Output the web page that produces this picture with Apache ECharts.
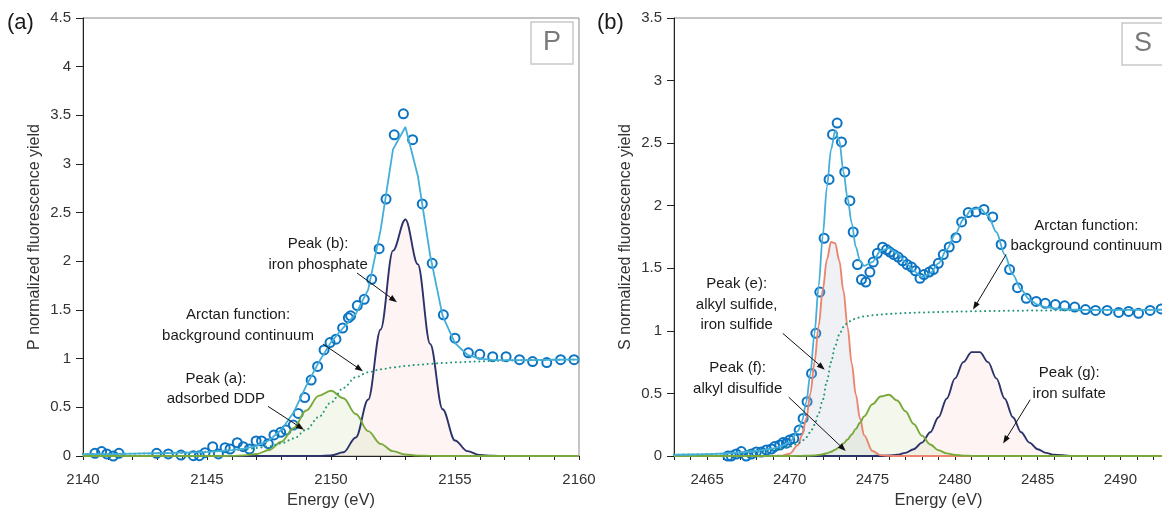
<!DOCTYPE html>
<html>
<head>
<meta charset="utf-8">
<script src="https://cdn.jsdelivr.net/npm/echarts@6/dist/echarts.min.js"></script>
<style>
  html, body { margin: 0; padding: 0; background: #fff; }
  #chart { width: 1162px; height: 508px; }
</style>
</head>
<body>
<div id="chart"></div>
<script>
// ---------- P K-edge panel (a) ----------
// energy grid of the fitted components (eV)
const pE = [2140,2140.5,2141,2141.5,2142,2142.5,2143,2143.5,2144,2144.5,2145,2145.5,2146,2146.5,2147,2147.5,2148,2148.5,2149,2149.5,2150,2150.5,2151,2151.5,2152,2152.5,2153,2153.5,2154,2154.5,2155,2155.5,2156,2156.5,2157,2157.5,2158,2158.5,2159,2159.5,2160];
const pPeakA = [0,0,0,0,0,0,0,0,0,0,0,0,0.001,0.006,0.021,0.061,0.147,0.289,0.467,0.618,0.67,0.594,0.431,0.256,0.125,0.05,0.016,0.004,0.001,0,0,0,0,0,0,0,0,0,0,0,0];
const pPeakB = [0,0,0,0,0,0,0,0,0,0,0,0,0,0,0,0,0,0,0,0,0.006,0.038,0.19,0.58,1.30,2.11,2.43,1.97,1.15,0.48,0.16,0.05,0.01,0.002,0,0,0,0,0,0,0];
const pArctan = [0.02,0.02,0.02,0.022,0.024,0.026,0.028,0.03,0.034,0.038,0.043,0.05,0.058,0.068,0.082,0.10,0.13,0.18,0.27,0.40,0.55,0.70,0.81,0.86,0.89,0.91,0.925,0.937,0.947,0.955,0.962,0.967,0.972,0.976,0.979,0.982,0.985,0.987,0.989,0.991,0.992];
const pFit = [0.02,0.02,0.02,0.022,0.024,0.026,0.028,0.03,0.034,0.038,0.043,0.05,0.06,0.075,0.105,0.16,0.27,0.45,0.72,0.96,1.17,1.32,1.46,1.71,2.32,3.15,3.38,2.88,2.06,1.44,1.16,1.04,1.0,0.988,0.985,0.985,0.985,0.987,0.989,0.99,0.99];
// measured points
const pDataE = [2140.48,2140.75,2140.96,2141.22,2141.45,2142.97,2143.44,2143.95,2144.45,2144.69,2144.92,2145.23,2145.46,2145.73,2145.93,2146.22,2146.46,2146.71,2146.98,2147.2,2147.47,2147.7,2147.97,2148.19,2148.48,2148.68,2148.94,2149.2,2149.46,2149.72,2149.96,2150.2,2150.47,2150.7,2150.79,2151.06,2151.34,2151.64,2151.94,2152.22,2152.55,2152.92,2153.29,2153.68,2154.08,2154.53,2155.0,2155.54,2156.0,2156.52,2157.06,2157.6,2158.13,2158.7,2159.26,2159.8];
const pDataY = [0.027,0.045,0.021,0.0,0.027,0.027,0.021,0.01,0.003,0.003,0.034,0.096,0.021,0.086,0.072,0.137,0.096,0.072,0.154,0.154,0.127,0.216,0.243,0.267,0.318,0.437,0.60,0.78,0.92,1.09,1.165,1.20,1.315,1.42,1.44,1.545,1.61,1.815,2.13,2.64,3.30,3.515,3.25,2.59,1.98,1.45,1.21,1.06,1.045,1.02,1.02,0.99,0.97,0.96,0.99,0.99];
const pXTicks = [2140, 2145, 2150, 2155, 2160];
const pXMinor = [2140,2141,2142,2143,2144,2145,2146,2147,2148,2149,2150,2151,2152,2153,2154,2155,2156,2157,2158,2159,2160];

// ---------- S K-edge panel (b) ----------
const sE = [2463,2464,2465,2466,2467,2468,2469,2469.5,2470,2470.5,2470.75,2471,2471.25,2471.5,2471.75,2472,2472.25,2472.5,2472.75,2473,2473.25,2473.5,2473.75,2474,2474.25,2474.5,2475,2475.5,2476,2476.5,2477,2477.5,2478,2478.5,2479,2479.5,2480,2480.5,2481,2481.5,2482,2482.5,2483,2483.5,2484,2484.5,2485,2485.5,2486,2487,2488,2489,2490,2491,2492,2493,2494,2495];
const sPeakE = [0,0,0,0,0,0,0,0.003,0.018,0.088,0.169,0.30,0.50,0.75,1.04,1.33,1.57,1.71,1.70,1.56,1.32,1.03,0.74,0.49,0.30,0.165,0.04,0.007,0.001,0,0,0,0,0,0,0,0,0,0,0,0,0,0,0,0,0,0,0,0,0,0,0,0,0,0,0,0,0];
const sPeakF = [0,0,0,0,0,0,0,0,0,0.001,0.001,0.002,0.003,0.005,0.009,0.014,0.022,0.034,0.05,0.071,0.10,0.132,0.172,0.217,0.266,0.317,0.413,0.476,0.49,0.443,0.358,0.256,0.163,0.092,0.046,0.021,0.008,0.003,0.001,0,0,0,0,0,0,0,0,0,0,0,0,0,0,0,0,0,0,0];
const sPeakG = [0,0,0,0,0,0,0,0,0,0,0,0,0,0,0,0,0,0,0,0,0,0,0,0,0,0,0.001,0.002,0.004,0.01,0.025,0.054,0.107,0.19,0.31,0.46,0.62,0.75,0.83,0.83,0.75,0.62,0.46,0.31,0.19,0.107,0.054,0.025,0.01,0.001,0,0,0,0,0,0,0,0];
const sArctan = [0.01,0.012,0.015,0.019,0.025,0.034,0.05,0.06,0.075,0.10,0.12,0.15,0.19,0.25,0.34,0.45,0.60,0.75,0.88,0.97,1.03,1.065,1.085,1.10,1.108,1.115,1.124,1.13,1.135,1.139,1.142,1.145,1.147,1.149,1.151,1.152,1.154,1.155,1.156,1.157,1.158,1.159,1.16,1.161,1.161,1.162,1.163,1.163,1.164,1.165,1.166,1.167,1.167,1.168,1.168,1.169,1.169,1.17];
const sFit = [0.01,0.012,0.015,0.02,0.028,0.04,0.06,0.08,0.11,0.2,0.28,0.43,0.66,0.98,1.36,1.76,2.15,2.45,2.6,2.52,2.27,2.06,1.86,1.67,1.56,1.52,1.55,1.64,1.66,1.62,1.55,1.48,1.43,1.46,1.54,1.65,1.77,1.89,1.97,1.98,1.92,1.79,1.61,1.45,1.33,1.25,1.21,1.19,1.18,1.17,1.167,1.167,1.167,1.168,1.168,1.169,1.169,1.17];
const sDataE = [2466.26,2466.46,2466.77,2467.07,2467.37,2467.68,2467.98,2468.28,2468.59,2468.89,2469.09,2469.4,2469.6,2469.8,2470.0,2470.25,2470.57,2470.81,2471.05,2471.32,2471.58,2471.82,2472.08,2472.38,2472.59,2472.87,2473.13,2473.33,2473.64,2473.84,2474.1,2474.34,2474.6,2474.85,2475.05,2475.3,2475.62,2475.86,2476.06,2476.3,2476.56,2476.83,2477.1,2477.37,2477.6,2477.88,2478.12,2478.44,2478.69,2478.99,2479.29,2479.65,2480.06,2480.4,2480.8,2481.27,2481.75,2482.28,2482.79,2483.3,2483.78,2484.31,2484.91,2485.46,2486.07,2486.63,2487.24,2487.89,2488.5,2489.2,2489.9,2490.5,2491.1,2491.8,2492.47];
const sDataY = [0.0,0.0,0.016,0.035,0.0,0.016,0.032,0.032,0.048,0.056,0.075,0.088,0.107,0.102,0.128,0.14,0.207,0.30,0.434,0.66,0.98,1.31,1.74,2.21,2.57,2.66,2.51,2.27,2.04,1.79,1.53,1.41,1.39,1.47,1.55,1.62,1.668,1.65,1.63,1.61,1.59,1.56,1.53,1.51,1.48,1.42,1.45,1.47,1.49,1.54,1.61,1.67,1.745,1.87,1.945,1.95,1.97,1.91,1.69,1.49,1.345,1.26,1.235,1.22,1.21,1.20,1.19,1.17,1.163,1.163,1.147,1.155,1.14,1.163,1.175];
const sXTicks = [2465, 2470, 2475, 2480, 2485, 2490];
const sXMinor = [2463,2464,2465,2466,2467,2468,2469,2470,2471,2472,2473,2474,2475,2476,2477,2478,2479,2480,2481,2482,2483,2484,2485,2486,2487,2488,2489,2490,2491,2492,2493,2494];

// ---------- annotations: [text, text anchor, arrow tail, arrow head] ----------
const pNotes = [
  ['Peak (b):\niron phosphate', [2149.48, 2.07], [2151.05, 1.88], [2152.66, 1.58]],
  ['Arctan function:\nbackground continuum', [2146.25, 1.34], [2149.68, 1.15], [2151.29, 0.87]],
  ['Peak (a):\nadsorbed DDP', [2145.36, 0.69], [2147.46, 0.51], [2148.91, 0.27]]
];
const sNotes = [
  ['Peak (e):\nalkyl sulfide,\niron sulfide', [2466.79, 1.21], [2469.58, 0.98], [2472.12, 0.69]],
  ['Peak (f):\nalkyl disulfide', [2466.85, 0.62], [2469.94, 0.47], [2473.39, 0.04]],
  ['Arctan function:\nbackground continuum', [2487.94, 1.76], [2483.09, 1.61], [2481.09, 1.17]],
  ['Peak (g):\niron sulfate', [2486.91, 0.58], [2484.55, 0.45], [2482.91, 0.10]]
];

const FONT = '"Liberation Sans", Arial, Helvetica, sans-serif';
const zip = (xs, ys) => xs.map((x, i) => [x, ys[i]]);
const plain = v => String(v);

const C = {
  green: '#79a93a', greenFill: 'rgba(160,195,105,0.18)',
  navy: '#2c336b', pinkFill: 'rgba(236,150,145,0.15)',
  salmon: '#ea8670', greyFill: 'rgba(180,188,210,0.30)',
  dotted: '#22977a', fit: '#43afd9', data: '#0b73c2'
};

function yAxis(grid, max, name) {
  return {
    type: 'value', gridIndex: grid, min: 0, max: max, interval: 0.5,
    name: name, nameLocation: 'middle', nameGap: 40,
    nameTextStyle: { fontSize: 16, color: '#333', fontFamily: FONT },
    axisLine: { show: true, lineStyle: { color: '#222', width: 1 } },
    axisTick: { show: true, length: 7, lineStyle: { color: '#222' } },
    axisLabel: { fontSize: 15, color: '#333', margin: 12, fontFamily: FONT, formatter: plain },
    splitLine: { show: false }
  };
}

function xAxis(grid, min, max, labels, ticks) {
  return {
    type: 'value', gridIndex: grid, min: min, max: max,
    name: 'Energy (eV)', nameLocation: 'middle', nameGap: 34,
    nameTextStyle: { fontSize: 16.5, color: '#333', fontFamily: FONT },
    axisLine: { show: true, onZero: false, lineStyle: { color: '#222', width: 1 } },
    axisTick: { show: true, length: 4, lineStyle: { color: '#222' }, customValues: ticks },
    axisLabel: { fontSize: 15, color: '#333', margin: 16, fontFamily: FONT,
                 customValues: labels, formatter: plain },
    splitLine: { show: false }
  };
}

function peak(name, xi, data, line, fill) {
  return {
    name: name, type: 'line', xAxisIndex: xi, yAxisIndex: xi, data: data,
    showSymbol: false, smooth: 0.35, smoothMonotone: 'x', silent: true,
    lineStyle: { color: line, width: 1.9 }, areaStyle: { color: fill, origin: 'start' }
  };
}
function arctan(xi, data) {
  return {
    type: 'line', xAxisIndex: xi, yAxisIndex: xi, data: data, showSymbol: false,
    smooth: 0.35, smoothMonotone: 'x', silent: true,
    lineStyle: { color: C.dotted, width: 2, type: [0.1, 4.6], cap: 'round' }
  };
}
function fit(xi, data, smooth) {
  return {
    type: 'line', xAxisIndex: xi, yAxisIndex: xi, data: data, showSymbol: false,
    smooth: smooth, smoothMonotone: 'x', silent: true,
    lineStyle: { color: C.fit, width: 1.8 }
  };
}
function measured(xi, data) {
  return {
    type: 'scatter', xAxisIndex: xi, yAxisIndex: xi, data: data, symbol: 'circle',
    symbolSize: 9, silent: true,
    itemStyle: { color: 'rgba(255,255,255,0)', borderColor: C.data, borderWidth: 2, opacity: 1 }
  };
}

const chart = echarts.init(document.getElementById('chart'), null, { renderer: 'canvas' });

chart.setOption({
  animation: false,
  textStyle: { fontFamily: FONT },
  grid: [
    { left: 83, top: 18, width: 496, height: 438, show: true, borderColor: '#8a8a8a', borderWidth: 1,
      containLabel: false, outerBoundsMode: 'none' },
    // panel (b) runs past the right edge of the page
    { left: 674, top: 18, width: 529, height: 438, show: true, borderColor: '#8a8a8a', borderWidth: 1,
      containLabel: false, outerBoundsMode: 'none' }
  ],
  xAxis: [
    xAxis(0, 2140, 2160, pXTicks, pXMinor),
    xAxis(1, 2463, 2495, sXTicks, sXMinor)
  ],
  yAxis: [
    yAxis(0, 4.5, 'P normalized fluorescence yield'),
    yAxis(1, 3.5, 'S normalized fluorescence yield')
  ],
  series: [
    peak('Peak (b)', 0, zip(pE, pPeakB), C.navy, C.pinkFill),
    peak('Peak (a)', 0, zip(pE, pPeakA), C.green, C.greenFill),
    arctan(0, zip(pE, pArctan)),
    fit(0, zip(pE, pFit), false),
    measured(0, zip(pDataE, pDataY)),

    peak('Peak (g)', 1, zip(sE, sPeakG), C.navy, C.pinkFill),
    peak('Peak (e)', 1, zip(sE, sPeakE), C.salmon, C.greyFill),
    peak('Peak (f)', 1, zip(sE, sPeakF), C.green, C.greenFill),
    arctan(1, zip(sE, sArctan)),
    fit(1, zip(sE, sFit), 0.3),
    measured(1, zip(sDataE, sDataY))
  ]
});

// annotation text and arrows, placed from data coordinates
function noteGraphics(gridIndex, notes) {
  const out = [];
  notes.forEach(([text, at, tail, head]) => {
    const t = chart.convertToPixel({ gridIndex }, at);
    const a = chart.convertToPixel({ gridIndex }, tail);
    const h = chart.convertToPixel({ gridIndex }, head);
    out.push({
      type: 'text', z: 100, silent: true,
      style: { text: text, x: t[0], y: t[1], align: 'center', verticalAlign: 'middle',
               font: '15px ' + FONT, fill: '#1a1a1a', lineHeight: 20.5 }
    });
    const dx = h[0] - a[0], dy = h[1] - a[1];
    const len = Math.hypot(dx, dy), ux = dx / len, uy = dy / len;
    const hl = 8, hw = 3;
    const bx = h[0] - ux * hl, by = h[1] - uy * hl;
    out.push({
      type: 'line', z: 100, silent: true,
      shape: { x1: a[0], y1: a[1], x2: bx + ux * 2, y2: by + uy * 2 },
      style: { stroke: '#111', lineWidth: 1 }
    });
    out.push({
      type: 'polygon', z: 100, silent: true,
      shape: { points: [[h[0], h[1]], [bx - uy * hw, by + ux * hw], [bx + uy * hw, by - ux * hw]] },
      style: { fill: '#111' }
    });
  });
  return out;
}

const g0 = chart.convertToPixel({ gridIndex: 0 }, [2160, 4.5]);
const g1 = chart.convertToPixel({ gridIndex: 1 }, [2463, 3.5]);

const graphics = [].concat(
  noteGraphics(0, pNotes),
  noteGraphics(1, sNotes),
  [
    { type: 'text', left: 7, top: 12, z: 100,
      style: { text: '(a)', font: '22px ' + FONT, fill: '#1a1a1a' } },
    { type: 'text', left: 597, top: 12, z: 100,
      style: { text: '(b)', font: '22px ' + FONT, fill: '#1a1a1a' } },
    { type: 'rect', z: 90, silent: true,
      shape: { x: g0[0] - 48, y: g0[1] + 4, width: 42, height: 42 },
      style: { fill: '#fff', stroke: '#c9c9c9', lineWidth: 1.5 } },
    { type: 'text', z: 91, silent: true,
      style: { text: 'P', x: g0[0] - 27, y: g0[1] + 25, align: 'center', verticalAlign: 'middle',
               font: '27px ' + FONT, fill: '#7a7a7a' } },
    { type: 'rect', z: 90, silent: true,
      shape: { x: g1[0] + 448, y: g1[1] + 5, width: 44, height: 42 },
      style: { fill: '#fff', stroke: '#c9c9c9', lineWidth: 1.5 } },
    { type: 'text', z: 91, silent: true,
      style: { text: 'S', x: g1[0] + 469, y: g1[1] + 26, align: 'center', verticalAlign: 'middle',
               font: '27px ' + FONT, fill: '#7a7a7a' } }
  ]
);

chart.setOption({ graphic: graphics });
</script>
</body>
</html>
